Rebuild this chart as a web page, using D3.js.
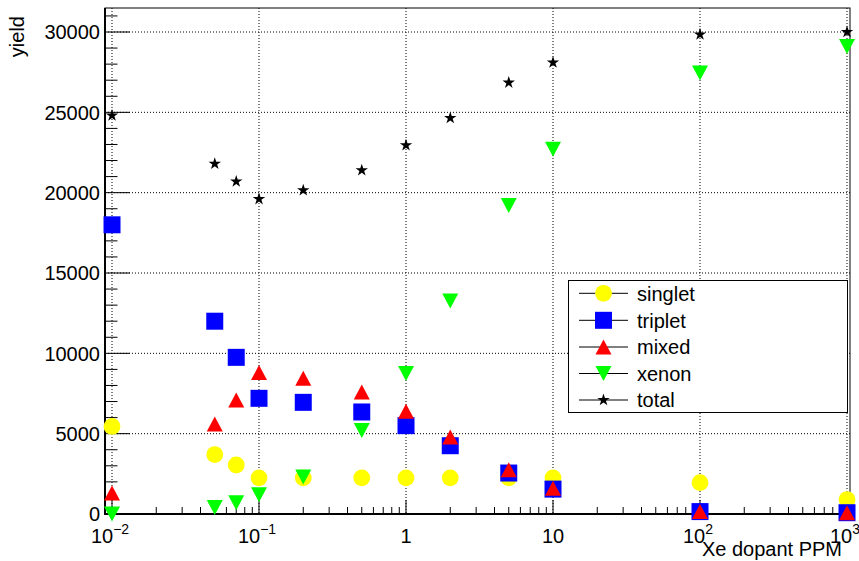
<!DOCTYPE html>
<html><head><meta charset="utf-8">
<script src="https://cdn.jsdelivr.net/npm/d3@7"></script>
<style>body{margin:0;background:#fff}svg{display:block;font-family:"Liberation Sans",Arial,sans-serif}</style>
</head><body><svg id="c" width="859" height="561"></svg>
<script>
const xVals   = [0.01, 0.05, 0.07, 0.1, 0.2, 0.5, 1, 2, 5, 10, 100, 1000];
const singlet = [5450, 3700, 3050, 2250, 2250, 2250, 2250, 2250, 2250, 2250, 1950, 900];
const triplet = [18000, 12000, 9750, 7200, 6950, 6350, 5500, 4250, 2550, 1550, 150, 80];
const mixed   = [1300, 5600, 7100, 8800, 8450, 7600, 6400, 4800, 2750, 1600, 150, 80];
const xenon   = [0, 400, 700, 1200, 2300, 5200, 8750, 13250, 19200, 22700, 27450, 29100];
const total   = [24800, 21800, 20700, 19600, 20150, 21400, 22950, 24650, 26850, 28100, 29850, 30000];
const seriesNames = ["singlet", "triplet", "mixed", "xenon", "total"];
const xMajorTicks = [0.01, 0.1, 1, 10, 100, 1000];
const xTickLabels = [["10","−2"], ["10","−1"], ["1",""], ["10",""], ["10","2"], ["10","3"]];
const yMajorTicks = [0, 5000, 10000, 15000, 20000, 25000, 30000];
const xTitle = "Xe dopant PPM";
const yTitle = "yield";

const svg = d3.select("#c");
const L = 105, R = 850, T = 8, B = 514;
const x = d3.scaleLog().domain([0.00896, 1048]).range([L, R]);
const y = d3.scaleLinear().domain([0, 31494]).range([B, T]);

const series = [
  {name: "singlet", vals: singlet, color: "#ffff00", shape: "circle"},
  {name: "triplet", vals: triplet, color: "#0000ff", shape: "square"},
  {name: "mixed",   vals: mixed,   color: "#ff0000", shape: "up"},
  {name: "xenon",   vals: xenon,   color: "#00ff00", shape: "down"},
  {name: "total",   vals: total,   color: "#000000", shape: "star"}
];

function shapePath(s) {
  if (s === "circle") return d3.symbol(d3.symbolCircle, Math.PI * 8.4 * 8.4)();
  if (s === "square") return "M-8.5,-8.5H8.5V8.5H-8.5Z";
  if (s === "up") return "M0,-7.5L8,7.5L-8,7.5Z";
  if (s === "down") return "M0,7.5L8,-7.5L-8,-7.5Z";
  return d3.symbol(d3.symbolStar, 48)();
}

// grid
const grid = svg.append("g").attr("stroke", "#000").attr("stroke-width", 1).attr("stroke-dasharray", "1,2");
xMajorTicks.forEach(t => grid.append("line").attr("x1", x(t)).attr("x2", x(t)).attr("y1", T).attr("y2", B));
yMajorTicks.slice(1).forEach(t => grid.append("line").attr("x1", L).attr("x2", R).attr("y1", y(t)).attr("y2", y(t)));

// frame
svg.append("rect").attr("x", L).attr("y", T).attr("width", R - L).attr("height", B - T)
  .attr("fill", "none").attr("stroke", "#000").attr("stroke-width", 1);
svg.append("line").attr("x1", L).attr("x2", L).attr("y1", T).attr("y2", B + 1).attr("stroke", "#000").attr("stroke-width", 2);
svg.append("line").attr("x1", L - 1).attr("x2", R).attr("y1", B).attr("y2", B).attr("stroke", "#000").attr("stroke-width", 2);

// x ticks
const ticks = svg.append("g").attr("stroke", "#000").attr("stroke-width", 1);
xMajorTicks.forEach(t => ticks.append("line").attr("x1", x(t)).attr("x2", x(t)).attr("y1", B).attr("y2", B - 14));
for (let e = -3; e <= 3; e++) {
  for (let k = 2; k <= 9; k++) {
    const v = k * Math.pow(10, e);
    if (v > x.domain()[0] && v < x.domain()[1])
      ticks.append("line").attr("x1", x(v)).attr("x2", x(v)).attr("y1", B).attr("y2", B - 7);
  }
}
// y ticks
for (let v = 0; v <= 31000; v += 1000) {
  const major = v % 5000 === 0;
  ticks.append("line").attr("x1", L).attr("x2", L + (major ? 25 : 12.5)).attr("y1", y(v)).attr("y2", y(v));
}

// x labels
xMajorTicks.forEach((t, i) => {
  const [base, sup] = xTickLabels[i];
  const tx = svg.append("text").attr("x", x(t) - (sup ? 2 : 0)).attr("y", 543).attr("text-anchor", "middle")
    .attr("font-size", 20).attr("fill", "#000");
  tx.append("tspan").text(base);
  if (sup) tx.append("tspan").attr("font-size", 14).attr("dy", -9).text(sup);
});
// y labels
yMajorTicks.forEach(t => {
  svg.append("text").attr("x", 100).attr("y", y(t)).attr("dy", "0.36em").attr("text-anchor", "end")
    .attr("font-size", 20).attr("fill", "#000").text(t);
});
// titles
svg.append("text").attr("x", 842).attr("y", 556).attr("text-anchor", "end").attr("font-size", 20).text(xTitle);
svg.append("text").attr("transform", "translate(24,16) rotate(-90)").attr("text-anchor", "end")
  .attr("font-size", 20).text(yTitle);

// markers
series.forEach(s => {
  svg.append("g").selectAll("path").data(s.vals.map((v, i) => [xVals[i], v])).join("path")
    .attr("d", shapePath(s.shape))
    .attr("transform", d => `translate(${x(d[0])},${y(d[1])})`)
    .attr("fill", s.color);
});

// legend
const lg = svg.append("g");
lg.append("rect").attr("x", 568.5).attr("y", 280.5).attr("width", 279).attr("height", 132)
  .attr("fill", "#fff").attr("stroke", "#000").attr("stroke-width", 1);
const rowY = [293.3, 320.3, 347, 373.5, 400];
series.forEach((s, i) => {
  const yy = rowY[i];
  lg.append("line").attr("x1", 579).attr("x2", 628).attr("y1", yy).attr("y2", yy).attr("stroke", "#000");
  lg.append("path").attr("d", shapePath(s.shape)).attr("transform", `translate(603.5,${yy})`).attr("fill", s.color);
  lg.append("text").attr("x", 637).attr("y", yy).attr("dy", "0.36em").attr("font-size", 20).text(seriesNames[i]);
});
</script></body></html>
